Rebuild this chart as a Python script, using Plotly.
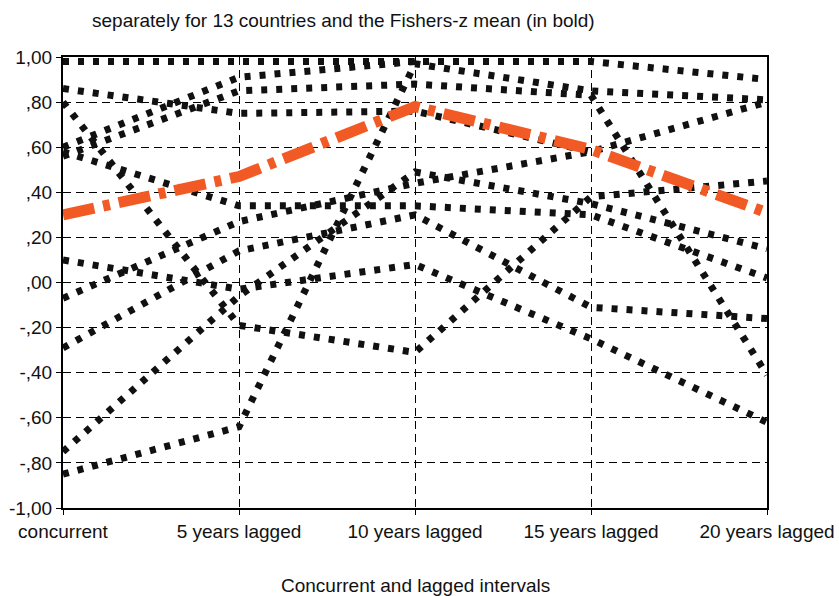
import plotly.graph_objects as go

# ---------------- data ----------------
intervals = ["concurrent", "5 years lagged", "10 years lagged", "15 years lagged", "20 years lagged"]
y_tick_values = [1.0, 0.8, 0.6, 0.4, 0.2, 0.0, -0.2, -0.4, -0.6, -0.8, -1.0]
y_tick_labels = ["1,00", ",80", ",60", ",40", ",20", ",00", "-,20", "-,40", "-,60", "-,80", "-1,00"]

country_01 = [0.98, 0.98, 0.98, 0.98, 0.90]
country_02 = [0.86, 0.75, 0.76, 0.58, 0.80]
country_03 = [0.80, -0.19, -0.31, 0.38, 0.45]
country_04 = [0.60, 0.91, 0.98, None, None]
country_05 = [0.56, 0.85, 0.88, 0.83, -0.41]
country_06 = [0.58, 0.34, 0.34, 0.30, 0.02]
country_07 = [0.10, -0.03, 0.08, -0.25, -0.62]
country_08 = [-0.07, 0.27, 0.44, 0.58, None]
country_09 = [-0.29, 0.14, 0.30, -0.11, -0.16]
country_10 = [-0.75, -0.06, 0.49, 0.35, 0.15]
country_11 = [-0.85, -0.64, 0.97, 0.85, 0.81]
countries = [country_01, country_02, country_03, country_04, country_05, country_06,
             country_07, country_08, country_09, country_10, country_11]

fisher_z_mean = [0.30, 0.47, 0.78, 0.59, 0.31]

title_text = "separately for 13 countries and the Fishers-z mean (in bold)"
x_title_text = "Concurrent and lagged intervals"

# ---------------- figure ----------------
FONT = "Liberation Sans, Arial, sans-serif"
FS = 19
xpos = list(range(len(intervals)))

fig = go.Figure()
for i, vals in enumerate(countries):
    fig.add_trace(go.Scatter(
        x=xpos, y=vals, mode="lines", name=f"country {i+1}",
        line=dict(color="#111111", width=7, dash="6px,9px"),
        connectgaps=False, hoverinfo="skip"))

fig.add_trace(go.Scatter(
    x=xpos, y=fisher_z_mean, mode="lines", name="Fishers-z mean",
    line=dict(color="#F15A24", width=11, dash="32px,9px,7px,9px"),
    hoverinfo="skip"))

grid_dash = "8px,5px"
fig.update_layout(
    width=839, height=596,
    margin=dict(l=63, r=72, t=57, b=88, autoexpand=False),
    paper_bgcolor="white", plot_bgcolor="white",
    showlegend=False,
    font=dict(family=FONT, size=FS, color="#111111"),
    xaxis=dict(
        range=[0, 4], tickmode="array", tickvals=xpos, ticktext=intervals,
        showgrid=True, gridcolor="#000000", gridwidth=1, griddash=grid_dash,
        showline=True, linecolor="#000000", linewidth=2, mirror=True,
        ticks="outside", ticklen=5, tickcolor="#000000",
        zeroline=False, tickfont=dict(size=FS), automargin=False,
    ),
    yaxis=dict(
        range=[-1, 1], tickmode="array", tickvals=y_tick_values, ticktext=y_tick_labels,
        showgrid=True, gridcolor="#000000", gridwidth=1, griddash=grid_dash,
        showline=True, linecolor="#000000", linewidth=2, mirror=True,
        ticks="outside", ticklen=5, tickcolor="#000000",
        zeroline=False, tickfont=dict(size=FS), automargin=False,
    ),
    annotations=[
        dict(text=title_text, xref="paper", yref="paper", x=0.038, y=1.082,
             xanchor="left", yanchor="middle", showarrow=False,
             font=dict(family=FONT, size=FS, color="#111111")),
        dict(text=x_title_text, xref="paper", yref="paper", x=0.5, y=-0.171,
             xanchor="center", yanchor="middle", showarrow=False,
             font=dict(family=FONT, size=FS, color="#111111")),
    ],
)

fig.write_html("out.html",
               config={"displayModeBar": False, "staticPlot": True},
               post_script="document.body.style.margin='0px';document.body.style.overflow='hidden';")
